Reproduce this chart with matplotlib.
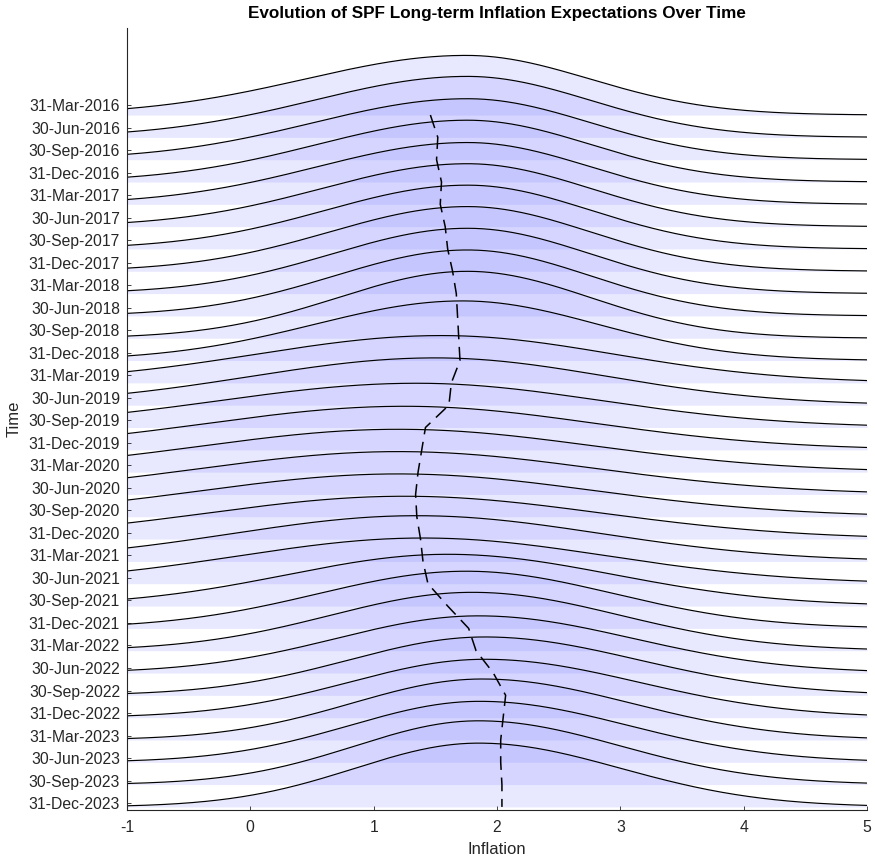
import numpy as np
import matplotlib.pyplot as plt

plt.rcParams['font.family'] = ['Liberation Sans', 'DejaVu Sans']
plt.rcParams['axes.unicode_minus'] = False

dates = ['31-Mar-2016', '30-Jun-2016', '30-Sep-2016', '31-Dec-2016',
         '31-Mar-2017', '30-Jun-2017', '30-Sep-2017', '31-Dec-2017',
         '31-Mar-2018', '30-Jun-2018', '30-Sep-2018', '31-Dec-2018',
         '31-Mar-2019', '30-Jun-2019', '30-Sep-2019', '31-Dec-2019',
         '31-Mar-2020', '30-Jun-2020', '30-Sep-2020', '31-Dec-2020',
         '31-Mar-2021', '30-Jun-2021', '30-Sep-2021', '31-Dec-2021',
         '31-Mar-2022', '30-Jun-2022', '30-Sep-2022', '31-Dec-2022',
         '31-Mar-2023', '30-Jun-2023', '30-Sep-2023', '31-Dec-2023']

# shape of each quarterly density: mode, spread left / right of the mode
modes = [1.75, 1.76, 1.76, 1.76, 1.76, 1.76, 1.76, 1.76, 1.76, 1.76, 1.76, 1.72,
         1.55, 1.50, 1.35, 1.25, 1.20, 1.20, 1.20, 1.25, 1.35, 1.40, 1.60, 1.75,
         1.80, 1.85, 1.90, 1.90, 1.88, 1.86, 1.85, 1.85]
left_sd = [1.30, 1.25, 1.25, 1.22, 1.22, 1.18, 1.15, 1.12, 1.10, 1.08, 1.05, 1.20,
           1.50, 1.50, 1.60, 1.60, 1.60, 1.60, 1.60, 1.60, 1.50, 1.50, 1.30, 1.20,
           1.15, 1.15, 1.10, 1.10, 1.05, 1.05, 1.00, 1.00]
right_sd = [1.00, 1.00, 1.00, 1.00, 1.00, 1.00, 1.00, 1.00, 1.00, 1.00, 1.00, 1.10,
            1.40, 1.40, 1.50, 1.55, 1.60, 1.60, 1.60, 1.60, 1.50, 1.50, 1.35, 1.20,
            1.20, 1.25, 1.25, 1.25, 1.20, 1.20, 1.15, 1.15]

# mean expectation per survey (dashed line)
means = [1.46, 1.52, 1.51, 1.55, 1.54, 1.58, 1.60, 1.64, 1.67, 1.68, 1.69, 1.70,
         1.63, 1.61, 1.42, 1.39, 1.36, 1.34, 1.35, 1.38, 1.40, 1.44, 1.60, 1.77,
         1.83, 1.97, 2.07, 2.05, 2.03, 2.03, 2.04, 2.04]

n = len(dates)
x = np.linspace(-1, 5, 500)
height = 7.7  # ridge height per unit density, in rows

fig = plt.figure(figsize=(8.75, 8.61), dpi=100)
ax = fig.add_axes([0.1451, 0.0592, 0.8458, 0.9083])

for i in range(n):
    sd = np.where(x < modes[i], left_sd[i], right_sd[i])
    pdf = 2 / (np.sqrt(2 * np.pi) * (left_sd[i] + right_sd[i])) * np.exp(-0.5 * ((x - modes[i]) / sd) ** 2)
    top = i - height * pdf
    ax.fill_between(x, top, i, color=(0.55, 0.55, 1.0), alpha=0.2, lw=0)
    ax.plot(x, top, color='k', lw=0.85)

ax.plot(means, np.arange(n), color='k', lw=1.1, ls=(0, (9, 5)))

ax.set_xlim(-1, 5)
ax.set_ylim(31.14, -3.9)
ax.set_xticks(range(-1, 6))
ax.set_yticks(np.linspace(-0.45, 30.83, n))
ax.set_yticklabels(dates)
ax.tick_params(direction='in', length=3, labelsize=11.3, colors='#262626', width=0.6)
ax.tick_params(axis='x', pad=7)
ax.tick_params(axis='y', pad=5)
for s in ['top', 'right']:
    ax.spines[s].set_visible(False)
for s in ['left', 'bottom']:
    ax.spines[s].set_color('#262626')
    ax.spines[s].set_linewidth(0.8)
ax.set_xlabel('Inflation', fontsize=12, color='#262626', labelpad=5)
ax.set_ylabel('Time', fontsize=12, color='#262626', labelpad=5)
ax.set_title('Evolution of SPF Long-term Inflation Expectations Over Time',
             fontsize=12.3, fontweight='bold', pad=7)

fig.savefig('out.png', dpi=100)
